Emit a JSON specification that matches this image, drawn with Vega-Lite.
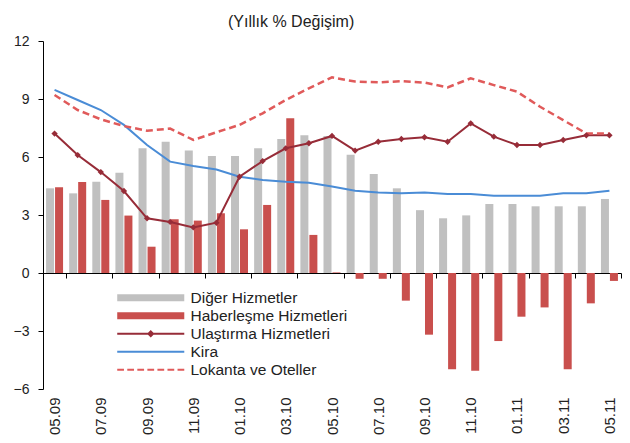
{
  "$schema": "https://vega.github.io/schema/vega-lite/v6.json",
  "width": 578,
  "height": 348,
  "autosize": "none",
  "padding": {"left": 43, "top": 41, "right": 9, "bottom": 54},
  "title": {"text": "(Yıllık  % Değişim)", "anchor": "start", "frame": "group", "dx": 185, "dy": 25, "offset": 16, "baseline": "alphabetic", "fontSize": 16, "font": "Liberation Sans", "fontWeight": "normal", "color": "#222222"},
  "config": {"view": {"stroke": null}, "font": "Liberation Sans"},
  "data": {"values": [
    {"m": "05.09", "Diğer Hizmetler": 4.38, "Haberleşme Hizmetleri": 4.43, "Ulaştırma Hizmetleri": 7.21, "Kira": 9.47, "Lokanta ve Oteller": 9.21},
    {"m": "06.09", "Diğer Hizmetler": 4.12, "Haberleşme Hizmetleri": 4.71, "Ulaştırma Hizmetleri": 6.10, "Kira": 8.95, "Lokanta ve Oteller": 8.43},
    {"m": "07.09", "Diğer Hizmetler": 4.72, "Haberleşme Hizmetleri": 3.78, "Ulaştırma Hizmetleri": 5.22, "Kira": 8.43, "Lokanta ve Oteller": 7.95},
    {"m": "08.09", "Diğer Hizmetler": 5.19, "Haberleşme Hizmetleri": 2.97, "Ulaştırma Hizmetleri": 4.24, "Kira": 7.66, "Lokanta ve Oteller": 7.60},
    {"m": "09.09", "Diğer Hizmetler": 6.45, "Haberleşme Hizmetleri": 1.36, "Ulaştırma Hizmetleri": 2.83, "Kira": 6.62, "Lokanta ve Oteller": 7.36},
    {"m": "10.09", "Diğer Hizmetler": 6.79, "Haberleşme Hizmetleri": 2.78, "Ulaştırma Hizmetleri": 2.64, "Kira": 5.76, "Lokanta ve Oteller": 7.47},
    {"m": "11.09", "Diğer Hizmetler": 6.33, "Haberleşme Hizmetleri": 2.71, "Ulaştırma Hizmetleri": 2.36, "Kira": 5.53, "Lokanta ve Oteller": 6.88},
    {"m": "12.09", "Diğer Hizmetler": 6.05, "Haberleşme Hizmetleri": 3.09, "Ulaştırma Hizmetleri": 2.60, "Kira": 5.35, "Lokanta ve Oteller": 7.28},
    {"m": "01.10", "Diğer Hizmetler": 6.05, "Haberleşme Hizmetleri": 2.26, "Ulaştırma Hizmetleri": 4.98, "Kira": 4.98, "Lokanta ve Oteller": 7.66},
    {"m": "02.10", "Diğer Hizmetler": 6.45, "Haberleşme Hizmetleri": 3.52, "Ulaştırma Hizmetleri": 5.79, "Kira": 4.81, "Lokanta ve Oteller": 8.26},
    {"m": "03.10", "Diğer Hizmetler": 6.93, "Haberleşme Hizmetleri": 8.00, "Ulaştırma Hizmetleri": 6.45, "Kira": 4.72, "Lokanta ve Oteller": 8.95},
    {"m": "04.10", "Diğer Hizmetler": 7.12, "Haberleşme Hizmetleri": 1.97, "Ulaştırma Hizmetleri": 6.71, "Kira": 4.67, "Lokanta ve Oteller": 9.55},
    {"m": "05.10", "Diğer Hizmetler": 7.09, "Haberleşme Hizmetleri": 0.03, "Ulaştırma Hizmetleri": 7.09, "Kira": 4.47, "Lokanta ve Oteller": 10.12},
    {"m": "06.10", "Diğer Hizmetler": 6.12, "Haberleşme Hizmetleri": -0.30, "Ulaştırma Hizmetleri": 6.33, "Kira": 4.26, "Lokanta ve Oteller": 9.90},
    {"m": "07.10", "Diğer Hizmetler": 5.12, "Haberleşme Hizmetleri": -0.30, "Ulaştırma Hizmetleri": 6.79, "Kira": 4.17, "Lokanta ve Oteller": 9.86},
    {"m": "08.10", "Diğer Hizmetler": 4.38, "Haberleşme Hizmetleri": -1.43, "Ulaştırma Hizmetleri": 6.93, "Kira": 4.12, "Lokanta ve Oteller": 9.92},
    {"m": "09.10", "Diğer Hizmetler": 3.25, "Haberleşme Hizmetleri": -3.19, "Ulaştırma Hizmetleri": 7.02, "Kira": 4.16, "Lokanta ve Oteller": 9.85},
    {"m": "10.10", "Diğer Hizmetler": 2.83, "Haberleşme Hizmetleri": -4.98, "Ulaştırma Hizmetleri": 6.79, "Kira": 4.09, "Lokanta ve Oteller": 9.60},
    {"m": "11.10", "Diğer Hizmetler": 2.98, "Haberleşme Hizmetleri": -5.05, "Ulaştırma Hizmetleri": 7.74, "Kira": 4.09, "Lokanta ve Oteller": 10.07},
    {"m": "12.10", "Diğer Hizmetler": 3.57, "Haberleşme Hizmetleri": -3.52, "Ulaştırma Hizmetleri": 7.05, "Kira": 4.00, "Lokanta ve Oteller": 9.72},
    {"m": "01.11", "Diğer Hizmetler": 3.57, "Haberleşme Hizmetleri": -2.26, "Ulaştırma Hizmetleri": 6.62, "Kira": 4.00, "Lokanta ve Oteller": 9.38},
    {"m": "02.11", "Diğer Hizmetler": 3.45, "Haberleşme Hizmetleri": -1.78, "Ulaştırma Hizmetleri": 6.62, "Kira": 4.00, "Lokanta ve Oteller": 8.60},
    {"m": "03.11", "Diğer Hizmetler": 3.45, "Haberleşme Hizmetleri": -4.98, "Ulaştırma Hizmetleri": 6.88, "Kira": 4.12, "Lokanta ve Oteller": 7.91},
    {"m": "04.11", "Diğer Hizmetler": 3.45, "Haberleşme Hizmetleri": -1.57, "Ulaştırma Hizmetleri": 7.12, "Kira": 4.12, "Lokanta ve Oteller": 7.22},
    {"m": "05.11", "Diğer Hizmetler": 3.83, "Haberleşme Hizmetleri": -0.41, "Ulaştırma Hizmetleri": 7.12, "Kira": 4.26, "Lokanta ve Oteller": 7.22}
  ]},
  "encoding": {
    "x": {
      "field": "m", "type": "ordinal", "title": null,
      "scale": {"domain": ["05.09","06.09","07.09","08.09","09.09","10.09","11.09","12.09","01.10","02.10","03.10","04.10","05.10","06.10","07.10","08.10","09.10","10.10","11.10","12.10","01.11","02.11","03.11","04.11","05.11"], "paddingInner": 0, "paddingOuter": 0},
      "axis": {
        "orient": "bottom", "offset": -116,
        "values": ["05.09","07.09","09.09","11.09","01.10","03.10","05.10","07.10","09.10","11.10","01.11","03.11","05.11"],
        "domain": true, "domainColor": "#000000", "domainWidth": 1,
        "ticks": true, "tickBand": "extent", "tickSize": 5, "tickColor": "#000000",
        "labelAngle": 270, "labelPadding": 119, "labelFontSize": 15, "labelFont": "Liberation Sans", "labelColor": "#222222",
        "grid": false
      }
    },
    "y": {
      "field": "value", "type": "quantitative", "title": null,
      "scale": {"domain": [-6, 12], "nice": false, "zero": false},
      "axis": {"values": [-6, -3, 0, 3, 6, 9, 12], "grid": false, "domainColor": "#000000", "tickColor": "#000000", "tickSize": 5, "labelPadding": 9, "labelFontSize": 14, "labelFont": "Liberation Sans", "labelColor": "#222222"}
    },
    "color": {
      "field": "series", "type": "nominal",
      "scale": {"domain": ["Diğer Hizmetler", "Haberleşme Hizmetleri", "Ulaştırma Hizmetleri", "Kira", "Lokanta ve Oteller"], "range": ["#c0c0c0", "#c94f4d", "#972c38", "#4a8cd6", "#e05a5a"]},
      "legend": {
        "orient": "none", "legendX": 100, "legendY": 249, "title": null, "padding": 0,
        "labelFontSize": 15.5, "labelFont": "Liberation Sans", "labelColor": "#222222",
        "symbolSize": 225, "labelOffset": 32, "rowPadding": 1,
        "encode": {"symbols": {"update": {
          "shape": {"signal": "datum.index < 2 ? 'M-4.47,-0.47H4.47V0.47H-4.47Z' : datum.index == 2 ? 'M-4.47,-0.13H4.47V0.13H-4.47Z M0,-0.5L0.5,0L0,0.5L-0.5,0Z' : datum.index == 3 ? 'M-4.47,-0.13H4.47V0.13H-4.47Z' : 'M-4.47,-0.13H-3.57V0.13H-4.47Z M-3.13,-0.13H-2.23V0.13H-3.13Z M-1.79,-0.13H-0.89V0.13H-1.79Z M-0.45,-0.13H0.45V0.13H-0.45Z M0.89,-0.13H1.79V0.13H0.89Z M2.23,-0.13H3.13V0.13H2.23Z M3.57,-0.13H4.47V0.13H3.57Z'"},
          "fill": {"scale": "color", "field": "value"},
          "stroke": {"value": "transparent"},
          "strokeWidth": {"value": 0},
          "strokeDash": {"value": []},
          "size": {"value": 225},
          "opacity": {"value": 1}
        }}}
      }
    }
  },
  "layer": [
    {
      "transform": [{"fold": ["Diğer Hizmetler", "Haberleşme Hizmetleri"], "as": ["series", "value"]}],
      "mark": {"type": "bar"},
      "encoding": {
        "xOffset": {"field": "series", "type": "nominal", "scale": {"domain": ["Diğer Hizmetler", "Haberleşme Hizmetleri"], "paddingInner": 0.11, "paddingOuter": 0.34}}
      }
    },
    {
      "transform": [{"fold": ["Ulaştırma Hizmetleri", "Kira"], "as": ["series", "value"]}],
      "mark": {"type": "line", "strokeWidth": 2}
    },
    {
      "transform": [{"fold": ["Lokanta ve Oteller"], "as": ["series", "value"]}],
      "mark": {"type": "line", "strokeWidth": 2.5, "strokeDash": [7, 4]}
    },
    {
      "transform": [{"fold": ["Ulaştırma Hizmetleri"], "as": ["series", "value"]}],
      "mark": {"type": "point", "shape": "diamond", "filled": true, "size": 40, "opacity": 1}
    }
  ]
}
